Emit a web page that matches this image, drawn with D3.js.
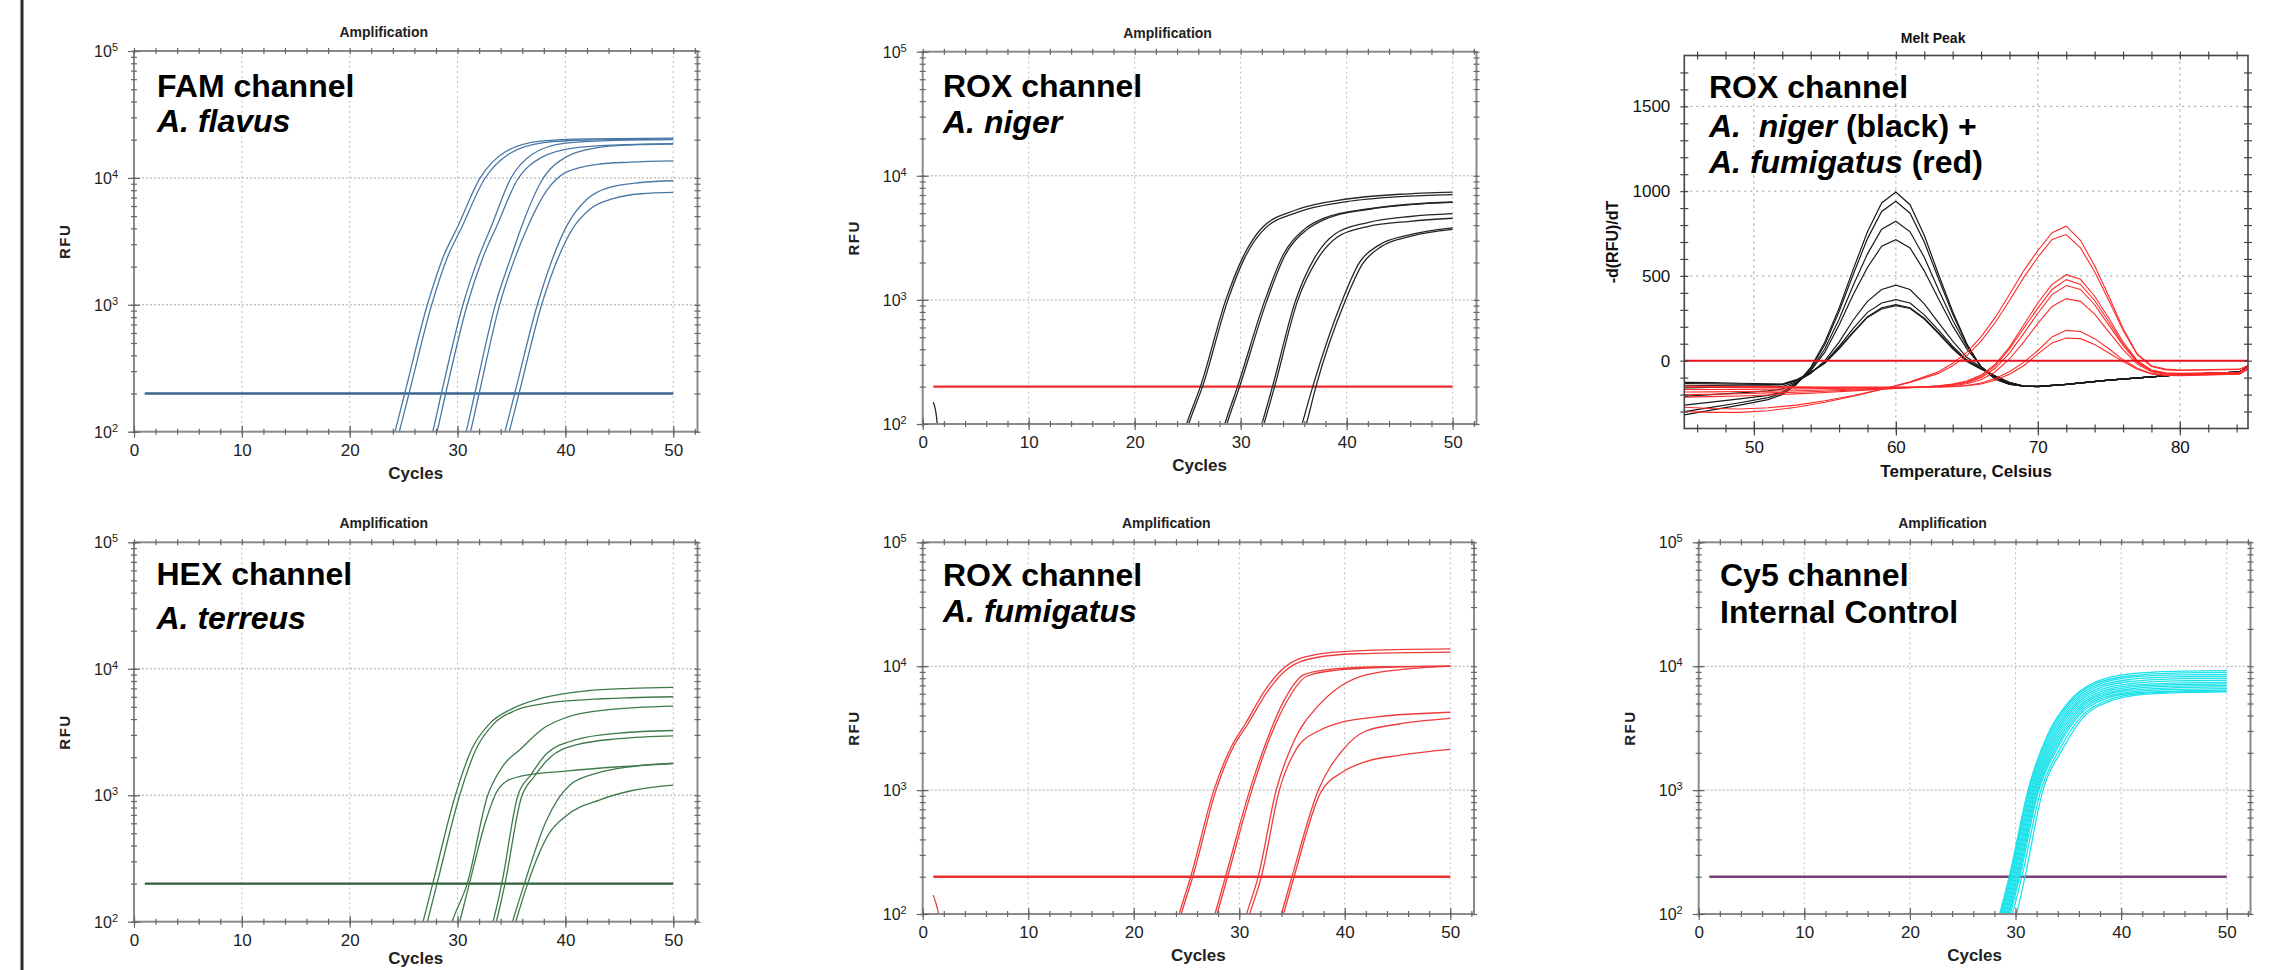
<!DOCTYPE html>
<html>
<head>
<meta charset="utf-8">
<script src="https://cdn.jsdelivr.net/npm/d3@7"></script>
<style>
body{margin:0;background:#fff;}
svg{display:block;font-family:"Liberation Sans",Arial,sans-serif;}
</style>
</head>
<body>
<script>
// ---- data ----
let ampXTicks=[0,10,20,30,40,50];
let ampYTicks=[100,1000,10000,100000];
let meltXTicks=[50,60,70,80];
let meltYTicks=[0,500,1000,1500];

// [cycle, RFU]
let famCurves=[
 [[23.2,48],[24.2,100],[25.1,200],[27.2,1000],[28.6,2300],[30,4100],[32.1,10000],[34.4,16000],[37.7,19500],[42,20300],[50,20600]],
 [[23.6,48],[24.6,100],[25.5,200],[27.6,1000],[29,2300],[30.4,4100],[32.5,9800],[34.8,15500],[38,19000],[42,19900],[50,20200]],
 [[26.7,48],[27.7,100],[28.5,200],[30.5,1000],[31.9,2300],[33.2,4300],[34.9,9800],[37,15500],[40,18800],[44,19700],[50,20000]],
 [[27.1,48],[28.1,100],[28.9,200],[30.9,1000],[32.3,2300],[33.7,4300],[35.5,9500],[37.8,14500],[41,17300],[45,18200],[50,18500]],
 [[29.8,48],[30.8,100],[31.6,200],[33.5,1000],[34.9,2300],[36.1,4500],[37.8,9500],[40,14500],[43,17300],[46,18200],[50,18600]],
 [[30.2,48],[31.2,100],[32,200],[33.9,1000],[35.3,2300],[36.6,4300],[38.2,7800],[40,11000],[43,12800],[46,13300],[50,13600]],
 [[33.4,48],[34.4,100],[35.3,200],[37.4,1000],[38.8,2300],[40.2,4300],[42,6800],[44,8400],[47,9200],[50,9500]],
 [[33.8,48],[34.8,100],[35.7,200],[37.8,1000],[39.2,2200],[40.6,3900],[42.3,5700],[44.5,6900],[47,7500],[50,7700]]
];
let nigerCurves=[
 [[23.9,50],[24.9,100],[26.2,200],[28.6,1000],[30.2,2200],[32,3800],[35.2,5300],[40,6500],[45,7100],[50,7400]],
 [[24.1,50],[25.1,100],[26.4,200],[28.8,1000],[30.4,2200],[32.2,3700],[35.4,5100],[40,6200],[45,6800],[50,7050]],
 [[27.5,50],[28.5,100],[29.7,200],[32.3,1000],[34,2300],[36,3700],[38,4600],[42,5400],[46,5900],[50,6150]],
 [[27.7,50],[28.7,100],[29.9,200],[32.5,1000],[34.2,2300],[36.2,3650],[38.2,4550],[42,5350],[46,5850],[50,6100]],
 [[31,50],[32,100],[33,200],[35.2,1000],[37,2200],[38.9,3400],[42,4200],[46,4700],[50,4950]],
 [[31.2,50],[32.2,100],[33.2,200],[35.4,1000],[37.2,2100],[39.1,3200],[42,3900],[46,4300],[50,4550]],
 [[34.8,50],[35.8,100],[36.8,200],[39.6,1000],[41.2,2000],[43,2750],[46,3350],[50,3800]],
 [[35.2,50],[36.2,100],[37.1,200],[39.9,1000],[41.5,1950],[43.3,2700],[46,3250],[50,3700]],
 [[1,150],[1.3,115],[1.6,55]]
];
let terreusCurves=[
 [[25.8,50],[26.8,100],[27.7,200],[29.8,1000],[31.3,2300],[33,3700],[35,4800],[38,5900],[42,6700],[46,7000],[50,7130]],
 [[26.2,50],[27.2,100],[28.1,200],[30.2,1000],[31.7,2300],[33.4,3700],[35.4,4700],[38,5300],[42,5700],[46,5900],[50,6010]],
 [[28.5,50],[29.5,100],[30.9,200],[32.8,1000],[34.2,1700],[35.8,2300],[38,3400],[40,4100],[44,4750],[50,5070]],
 [[29.2,50],[30.2,100],[31.1,200],[32.6,620],[33.6,1050],[34.6,1300],[36,1420],[40,1550],[45,1680],[50,1780]],
 [[32.3,50],[33.3,100],[34.1,200],[35.6,1000],[36.8,1450],[38.3,2150],[41,2750],[45,3100],[50,3250]],
 [[32.6,50],[33.6,100],[34.4,200],[35.9,950],[37.1,1400],[38.6,2000],[41,2500],[45,2800],[50,2950]],
 [[34.1,50],[35.1,100],[36.2,200],[38.2,620],[40.4,1200],[43,1500],[46,1680],[50,1790]],
 [[34.4,50],[35.4,100],[36.5,200],[38.5,500],[40,680],[43.2,920],[46,1080],[50,1200]]
];
let fumiCurves=[
 [[23.3,50],[24.3,100],[25.4,200],[27.6,1000],[29.2,2200],[30.6,3450],[32.5,6500],[34.3,9800],[37,12300],[41,13300],[50,13800]],
 [[23.5,50],[24.5,100],[25.6,200],[27.8,1000],[29.4,2200],[30.8,3400],[32.7,6300],[34.5,9400],[37.2,11700],[41,12600],[50,13000]],
 [[26.7,50],[27.7,100],[28.7,200],[31,1000],[32.6,2500],[34.2,5200],[36.2,8600],[39,9500],[44,9900],[50,10000]],
 [[26.9,50],[27.9,100],[28.9,200],[31.2,1000],[32.8,2500],[34.4,5000],[36.4,8300],[39.2,9300],[44,9800],[50,10000]],
 [[29.7,50],[30.7,100],[31.8,200],[33.5,1000],[35.2,2500],[37.5,4800],[39.6,6900],[42,8500],[46,9500],[50,10000]],
 [[30,50],[31,100],[32.1,200],[33.8,1000],[35.5,2200],[37.5,3000],[39.8,3550],[43,3900],[50,4250]],
 [[33,50],[34,100],[35,200],[37.5,1000],[39.8,2100],[42,3000],[45,3400],[50,3790]],
 [[33.2,50],[34.2,100],[35.2,200],[37.7,950],[39.8,1400],[42,1700],[45,1900],[50,2130]],
 [[1,142],[1.4,110],[1.9,60]]
];
let cy5Curves=[
 [[27.6,50],[28.6,100],[29.5,200],[31.2,1000],[33,2750],[35,5100],[37.5,7400],[41,8700],[45,9100],[50,9200]],
 [[27.5,50],[28.5,100],[29.4,200],[31.2,1000],[33,2700],[35,5000],[37.5,7200],[41,8400],[45,8800],[50,8900]],
 [[27.6,50],[28.6,100],[29.5,200],[31.3,1000],[33.1,2650],[35.1,4900],[37.6,7000],[41,8150],[45,8500],[50,8600]],
 [[27.7,50],[28.7,100],[29.6,200],[31.4,1000],[33.2,2600],[35.2,4800],[37.7,6800],[41,7850],[45,8200],[50,8300]],
 [[27.8,50],[28.8,100],[29.7,200],[31.5,1000],[33.3,2550],[35.3,4700],[37.8,6600],[41,7550],[45,7900],[50,8000]],
 [[27.9,50],[28.9,100],[29.8,200],[31.6,1000],[33.4,2500],[35.4,4600],[37.9,6400],[41,7250],[45,7600],[50,7700]],
 [[28,50],[29,100],[29.9,200],[31.7,1000],[33.5,2450],[35.5,4500],[38,6200],[41,7000],[45,7300],[50,7400]],
 [[28.1,50],[29.1,100],[30,200],[31.8,1000],[33.6,2400],[35.6,4400],[38.1,6050],[41,6800],[45,7100],[50,7200]],
 [[28.2,50],[29.2,100],[30.1,200],[31.9,1000],[33.7,2350],[35.7,4300],[38.2,5900],[41,6600],[45,6900],[50,7000]],
 [[28.3,50],[29.3,100],[30.2,200],[32,1000],[33.8,2300],[35.8,4200],[38.3,5750],[41,6400],[45,6700],[50,6800]],
 [[28.4,50],[29.4,100],[30.3,200],[32.1,1000],[33.9,2250],[35.9,4100],[38.4,5600],[41,6200],[45,6500],[50,6600]],
 [[28.5,50],[29.5,100],[30.4,200],[32.2,1000],[34,2200],[36,4000],[38.5,5450],[41,6050],[45,6300],[50,6400]],
 [[28.7,50],[29.7,100],[30.6,200],[32.4,1000],[34.2,2150],[36.2,3900],[38.7,5300],[41,5900],[45,6200],[50,6300]],
 [[29.1,50],[30.1,100],[30.9,200],[32.6,1000],[34.4,2100],[36.4,3850],[38.9,5200],[41.5,5850],[45,6100],[50,6200]]
];

// melt peak: -d(RFU)/dT against temperature
let meltTempBlack=[45.1,47,49,51,52,53,54,55,56,57,58,59,60,61,62,63,64,65,66,67,68,69,70,72,75,78,80,82,84.2,84.8];
let meltBlack=[
 [-320,-292,-262,-230,-200,-140,-40,110,310,540,760,930,995,920,740,510,290,100,-40,-110,-140,-150,-152,-140,-115,-95,-83,-75,-68,-35],
 [-300,-275,-248,-218,-192,-138,-45,95,290,510,720,880,940,870,700,485,275,95,-38,-108,-139,-150,-152,-140,-115,-95,-83,-75,-68,-35],
 [-262,-245,-225,-205,-185,-135,-55,70,245,445,630,775,822,760,610,420,240,85,-35,-104,-137,-150,-152,-140,-115,-95,-83,-75,-68,-35],
 [-210,-200,-190,-178,-168,-130,-60,50,210,390,550,675,714,665,530,365,205,70,-34,-100,-135,-150,-152,-140,-115,-95,-83,-75,-68,-35],
 [-160,-158,-156,-155,-152,-125,-75,0,110,240,350,420,446,420,335,225,115,20,-40,-95,-132,-150,-153,-140,-115,-95,-83,-75,-68,-35],
 [-148,-146,-145,-144,-142,-118,-72,-10,85,190,285,340,360,340,270,180,85,5,-45,-92,-130,-150,-153,-140,-115,-95,-83,-75,-68,-35],
 [-135,-136,-138,-140,-140,-115,-70,-12,75,170,260,312,330,312,250,165,75,-2,-48,-90,-129,-150,-153,-140,-115,-95,-83,-75,-68,-35],
 [-128,-130,-133,-136,-138,-112,-68,-15,70,165,255,305,325,308,246,160,70,-5,-50,-90,-128,-150,-153,-140,-115,-95,-83,-75,-68,-35]
];
let meltTempRed=[45.1,47,49,51,53,55,57,59,61,63,64,65,66,67,68,69,70,71,72,73,74,75,76,77,78,79,80,82,84.2,84.8];
let meltRed=[
 [-300,-305,-305,-295,-275,-245,-210,-170,-125,-65,-15,50,140,255,390,530,650,755,793,710,560,380,190,40,-30,-50,-55,-52,-50,-28],
 [-275,-282,-285,-278,-262,-236,-205,-168,-128,-75,-30,30,115,225,355,490,610,715,744,665,525,355,180,35,-35,-55,-58,-55,-52,-30],
 [-215,-212,-208,-202,-196,-188,-178,-168,-160,-148,-138,-120,-85,-20,80,210,340,450,507,480,380,250,110,0,-55,-72,-75,-72,-68,-38],
 [-200,-198,-195,-190,-186,-180,-173,-166,-160,-150,-140,-125,-92,-30,70,190,310,420,478,450,355,230,100,-5,-58,-74,-77,-74,-70,-40],
 [-185,-184,-182,-180,-177,-173,-168,-163,-158,-150,-142,-130,-100,-45,45,160,280,390,443,420,330,210,90,-10,-60,-76,-80,-76,-72,-42],
 [-170,-170,-169,-168,-166,-164,-162,-160,-157,-152,-146,-136,-112,-65,10,110,220,320,366,350,275,170,65,-20,-65,-80,-83,-80,-75,-45],
 [-155,-156,-157,-158,-158,-158,-158,-158,-157,-155,-152,-146,-132,-105,-65,-10,60,140,179,172,130,70,5,-45,-75,-85,-87,-83,-78,-48],
 [-150,-151,-152,-153,-154,-155,-156,-156,-156,-155,-153,-148,-137,-115,-80,-30,40,105,134,130,95,45,-5,-50,-78,-87,-88,-84,-80,-50]
];

// ---- layout ----
let W=2295,H=970;
let svg=d3.select("body").append("svg").attr("width",W).attr("height",H);

svg.append("line").attr("x1",22).attr("x2",22).attr("y1",0).attr("y2",H)
  .attr("stroke","#2b2b2b").attr("stroke-width",3);

let ampPanels=[
 {id:"fam",left:134,right:697.5,top:51,bottom:431.7,curves:famCurves,color:"#4a78a6",thrColor:"#3b6690",
  labelX:157,labelY:[97,132],label:[[["FAM channel",false]],[["A. flavus",true]]]},
 {id:"niger",left:922.7,right:1476.5,top:51.7,bottom:424,curves:nigerCurves,color:"#262626",thrColor:"#ec2d2d",
  labelX:943,labelY:[97,133],label:[[["ROX channel",false]],[["A. niger",true]]]},
 {id:"terreus",left:134,right:697.5,top:542.3,bottom:921.7,curves:terreusCurves,color:"#3f7a4b",thrColor:"#2f5e38",
  labelX:156.5,labelY:[585,629],label:[[["HEX channel",false]],[["A. terreus",true]]],cyclesY:964},
 {id:"fumi",left:922.7,right:1474,top:542.3,bottom:914,curves:fumiCurves,color:"#ee3b3b",thrColor:"#e83030",
  labelX:943,labelY:[586,622],label:[[["ROX channel",false]],[["A. fumigatus",true]]]},
 {id:"cy5",left:1698.7,right:2250.5,top:542.3,bottom:914,curves:cy5Curves,color:"#1ee2ea",thrColor:"#7a3d78",
  labelX:1720,labelY:[586,623],label:[[["Cy5 channel",false]],[["Internal Control",false]]]}
];
let thresholdRFU=200;

function bigLabel(g,x,ys,lines){
  lines.forEach((segs,i)=>{
    let t=g.append("text").attr("x",x).attr("y",ys[i]).style("font-size","32px").style("font-weight","bold")
      .style("white-space","pre").attr("fill","#000");
    segs.forEach(s=>t.append("tspan").text(s[0]).style("font-style",s[1]?"italic":"normal"));
  });
}

function crossTicks(g,axis,tr,len,vertical,color){
  let a=g.append("g").attr("transform",tr).call(axis.tickFormat("").tickSizeOuter(0));
  a.select(".domain").remove();
  if(vertical) a.selectAll(".tick line").attr("x1",-len).attr("x2",len).attr("y1",0).attr("y2",0);
  else a.selectAll(".tick line").attr("y1",-len).attr("y2",len).attr("x1",0).attr("x2",0);
  a.selectAll(".tick line").attr("stroke",color).attr("stroke-width",1.2);
}

function drawAmp(p){
  let g=svg.append("g");
  let x=d3.scaleLinear().domain([0,52.25]).range([p.left,p.right]);
  let y=d3.scaleLog().domain([100,100000]).range([p.bottom,p.top]);
  g.append("clipPath").attr("id","clip-"+p.id).append("rect")
    .attr("x",p.left).attr("y",p.top).attr("width",p.right-p.left).attr("height",p.bottom-p.top);

  g.selectAll(".vg").data(ampXTicks.slice(1)).enter().append("line")
    .attr("x1",d=>x(d)).attr("x2",d=>x(d)).attr("y1",p.top).attr("y2",p.bottom)
    .attr("stroke","#bdbdbd").attr("stroke-dasharray","2,3");
  g.selectAll(".hg").data(ampYTicks.slice(1,3)).enter().append("line")
    .attr("x1",p.left).attr("x2",p.right).attr("y1",d=>y(d)).attr("y2",d=>y(d))
    .attr("stroke","#a8a8a8").attr("stroke-dasharray","2,2");

  g.append("line").attr("x1",x(1)).attr("x2",x(50)).attr("y1",y(thresholdRFU)).attr("y2",y(thresholdRFU))
    .attr("stroke",p.thrColor).attr("stroke-width",2.4);

  let line=d3.line().x(d=>x(d[0])).y(d=>y(d[1])).curve(d3.curveMonotoneX);
  g.append("g").attr("clip-path","url(#clip-"+p.id+")").selectAll("path").data(p.curves).enter().append("path")
    .attr("d",line).attr("fill","none").attr("stroke",p.color).attr("stroke-width",1.3);

  g.append("rect").attr("x",p.left).attr("y",p.top).attr("width",p.right-p.left).attr("height",p.bottom-p.top)
    .attr("fill","none").attr("stroke","#8a8a8a").attr("stroke-width",2);

  let tc="#666";
  let minorX=d3.range(0,53,2);
  crossTicks(g,d3.axisBottom(x).tickValues(minorX),`translate(0,${p.bottom})`,3,false,tc);
  crossTicks(g,d3.axisBottom(x).tickValues(ampXTicks),`translate(0,${p.bottom})`,6,false,tc);
  crossTicks(g,d3.axisTop(x).tickValues(minorX),`translate(0,${p.top})`,3,false,tc);
  crossTicks(g,d3.axisLeft(y).tickValues(y.ticks()),`translate(${p.left},0)`,3,true,tc);
  crossTicks(g,d3.axisLeft(y).tickValues(ampYTicks),`translate(${p.left},0)`,6,true,tc);
  crossTicks(g,d3.axisRight(y).tickValues(y.ticks()),`translate(${p.right},0)`,3,true,tc);

  let xa=g.append("g").attr("transform",`translate(0,${p.bottom})`)
    .call(d3.axisBottom(x).tickValues(ampXTicks).tickSize(0).tickPadding(12).tickFormat(d3.format("d")));
  xa.select(".domain").remove();
  xa.selectAll("text").style("font-size","17px").style("font-family","'Liberation Sans',Arial,sans-serif").attr("fill","#222");

  let ya=g.append("g").attr("transform",`translate(${p.left},0)`)
    .call(d3.axisLeft(y).tickValues(ampYTicks).tickSize(0).tickFormat(""));
  ya.select(".domain").remove();
  ya.selectAll(".tick").append("text").attr("x",-16).attr("dy","0.35em").attr("text-anchor","end")
    .style("font-size","16px").attr("fill","#222")
    .each(function(d){
      let t=d3.select(this);
      t.append("tspan").text("10");
      t.append("tspan").text(Math.round(Math.log10(d))).attr("dy","-0.55em").style("font-size","11px");
    });

  let cx=(p.left+p.right)/2;
  g.append("text").attr("x",cx-32).attr("y",p.top-14).attr("text-anchor","middle")
    .style("font-size","14px").style("font-weight","bold").attr("fill","#222").text("Amplification");
  g.append("text").attr("x",cx).attr("y",p.cyclesY||p.bottom+47).attr("text-anchor","middle")
    .style("font-size","17px").style("font-weight","bold").attr("fill","#222").text("Cycles");
  g.append("text").attr("transform",`translate(${p.left-64},${(p.top+p.bottom)/2}) rotate(-90)`)
    .attr("text-anchor","middle").style("font-size","15px").style("font-weight","bold")
    .style("letter-spacing","1.5px").attr("fill","#222").text("RFU");

  bigLabel(g,p.labelX,p.labelY,p.label);
}
ampPanels.forEach(drawAmp);

// ---- melt peak panel ----
let mp={left:1684.3,right:2248,top:55.5,bottom:428.5};
(function(){
  let g=svg.append("g");
  let x=d3.scaleLinear().domain([45.1,84.8]).range([mp.left,mp.right]);
  let y=d3.scaleLinear().domain([-400,1800]).range([mp.bottom,mp.top]);
  g.append("clipPath").attr("id","clip-melt").append("rect")
    .attr("x",mp.left).attr("y",mp.top).attr("width",mp.right-mp.left).attr("height",mp.bottom-mp.top);

  g.selectAll(".vg").data(meltXTicks).enter().append("line")
    .attr("x1",d=>x(d)).attr("x2",d=>x(d)).attr("y1",mp.top).attr("y2",mp.bottom)
    .attr("stroke","#999").attr("stroke-dasharray","2,4");
  g.selectAll(".hg").data(meltYTicks.slice(1)).enter().append("line")
    .attr("x1",mp.left).attr("x2",mp.right).attr("y1",d=>y(d)).attr("y2",d=>y(d))
    .attr("stroke","#999").attr("stroke-dasharray","2,4");

  let cg=g.append("g").attr("clip-path","url(#clip-melt)");
  let lb=d3.line().x((d,i)=>x(meltTempBlack[i])).y(d=>y(d));
  let lr=d3.line().x((d,i)=>x(meltTempRed[i])).y(d=>y(d));
  cg.selectAll(".blk").data(meltBlack).enter().append("path").attr("d",lb)
    .attr("fill","none").attr("stroke","#1a1a1a").attr("stroke-width",1.2);
  cg.selectAll(".red").data(meltRed).enter().append("path").attr("d",lr)
    .attr("fill","none").attr("stroke","#ff2a2a").attr("stroke-width",1.1);
  cg.append("line").attr("x1",mp.left).attr("x2",mp.right).attr("y1",y(0)).attr("y2",y(0))
    .attr("stroke","#e8101a").attr("stroke-width",2);

  g.append("rect").attr("x",mp.left).attr("y",mp.top).attr("width",mp.right-mp.left).attr("height",mp.bottom-mp.top)
    .attr("fill","none").attr("stroke","#444").attr("stroke-width",1.6);

  let tc="#444";
  let minorT=d3.range(46,85,2);
  let minorV=d3.range(-300,1800,100);
  crossTicks(g,d3.axisBottom(x).tickValues(minorT),`translate(0,${mp.bottom})`,4,false,tc);
  crossTicks(g,d3.axisBottom(x).tickValues(meltXTicks),`translate(0,${mp.bottom})`,7,false,tc);
  crossTicks(g,d3.axisTop(x).tickValues(minorT),`translate(0,${mp.top})`,4,false,tc);
  crossTicks(g,d3.axisLeft(y).tickValues(minorV),`translate(${mp.left},0)`,4,true,tc);
  crossTicks(g,d3.axisRight(y).tickValues(minorV),`translate(${mp.right},0)`,4,true,tc);

  let xa=g.append("g").attr("transform",`translate(0,${mp.bottom})`)
    .call(d3.axisBottom(x).tickValues(meltXTicks).tickSize(0).tickPadding(12).tickFormat(d3.format("d")));
  xa.select(".domain").remove();
  xa.selectAll("text").style("font-size","17px").style("font-family","'Liberation Sans',Arial,sans-serif").attr("fill","#111");
  let ya=g.append("g").attr("transform",`translate(${mp.left},0)`)
    .call(d3.axisLeft(y).tickValues(meltYTicks).tickSize(0).tickPadding(14).tickFormat(d3.format("d")));
  ya.select(".domain").remove();
  ya.selectAll("text").style("font-size","17px").style("font-family","'Liberation Sans',Arial,sans-serif").attr("fill","#111");

  let cx=(mp.left+mp.right)/2;
  g.append("text").attr("x",cx-33).attr("y",43).attr("text-anchor","middle")
    .style("font-size","14px").style("font-weight","bold").attr("fill","#111").text("Melt Peak");
  g.append("text").attr("x",cx).attr("y",477).attr("text-anchor","middle")
    .style("font-size","17px").style("font-weight","bold").attr("fill","#111").text("Temperature, Celsius");
  g.append("text").attr("transform",`translate(${mp.left-66},${(mp.top+mp.bottom)/2}) rotate(-90)`)
    .attr("text-anchor","middle").style("font-size","16px").style("font-weight","bold").attr("fill","#111").text("-d(RFU)/dT");

  bigLabel(g,1709,[98,137,173],[
    [["ROX channel",false]],
    [["A.  niger",true],[" (black) +",false]],
    [["A. fumigatus",true],[" (red)",false]]
  ]);
})();
</script>
</body>
</html>
